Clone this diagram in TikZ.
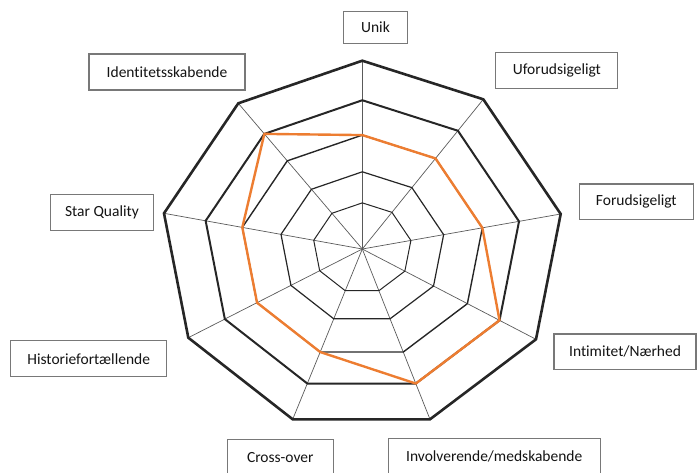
\documentclass[tikz,border=0pt]{standalone}
\usepackage{fontspec}
\setmainfont{Carlito}[Ligatures=NoCommon]
\usetikzlibrary{calc}
\definecolor{chartorange}{RGB}{237,125,49}
\definecolor{boxgray}{RGB}{120,120,120}
\definecolor{spokegray}{RGB}{90,90,90}
\definecolor{textdark}{RGB}{20,20,20}
\tikzset{
  labelbox/.style={draw=boxgray, line width=1.1pt, fill=white, inner sep=0pt,
    font=\fontsize{15.5}{17}\selectfont, text=textdark},
  spoke/.style={draw=spokegray, line width=0.7pt},
  ringline/.style={draw=black!85, line join=miter},
  dataline/.style={draw=chartorange, line width=2.4pt, line join=round}
}
\begin{document}
\begin{tikzpicture}[x=1pt,y=-1pt]
\useasboundingbox (0,0) rectangle (697,472);
\clip (0,0) rectangle (697,472);
% centre and outer vertices
\coordinate (c) at (362.3,249);
\coordinate (v0) at (362.3,60.7);
\coordinate (v1) at (483.3,99.3);
\coordinate (v2) at (560.7,214);
\coordinate (v3) at (536,339.3);
\coordinate (v4) at (430,419.3);
\coordinate (v5) at (292.7,419.3);
\coordinate (v6) at (188.3,337.7);
\coordinate (v7) at (164,213.3);
\coordinate (v8) at (238.3,103.3);
% spokes
\foreach \i in {0,...,8} \draw[spoke] (c) -- (v\i);
% rings
\foreach \f/\w in {0.245/1.0,0.41/1.2,0.605/1.4,0.79/2.0,1/2.6}
  \draw[ringline, line width=\w pt]
    ($(c)!\f!(v0)$) -- ($(c)!\f!(v1)$) -- ($(c)!\f!(v2)$) -- ($(c)!\f!(v3)$) --
    ($(c)!\f!(v4)$) -- ($(c)!\f!(v5)$) -- ($(c)!\f!(v6)$) -- ($(c)!\f!(v7)$) --
    ($(c)!\f!(v8)$) -- cycle;
% data polygon
\draw[dataline]
  ($(c)!0.605!(v0)$) -- ($(c)!0.605!(v1)$) -- ($(c)!0.605!(v2)$) -- ($(c)!0.79!(v3)$) --
  ($(c)!0.79!(v4)$) -- ($(c)!0.605!(v5)$) -- ($(c)!0.605!(v6)$) -- ($(c)!0.605!(v7)$) --
  ($(c)!0.79!(v8)$) -- cycle;
% labels
\node[labelbox, minimum width=64pt, minimum height=32pt] (unik) at (375.5,27.2) {Unik};
\node[labelbox, minimum width=122pt, minimum height=36pt] (ufor) at (556.9,70.9) {Uforudsigeligt};
\node[labelbox, minimum width=156pt, minimum height=36pt] (ident) at (167,72) {Identitetsskabende};
\node[labelbox, minimum width=103pt, minimum height=36.5pt] (star) at (102,212.4) {Star Quality};
\node[labelbox, minimum width=114pt, minimum height=35.5pt] (forud) at (636.3,201.7) {Forudsigeligt};
\node[labelbox, minimum width=156pt, minimum height=36pt] (hist) at (88.7,358.7) {Historiefortællende};
\node[labelbox, minimum width=142pt, minimum height=35.5pt] (intim) at (625,351.7) {Intimitet/Nærhed};
\node[labelbox, minimum width=106pt, minimum height=36pt] (cross) at (280.3,457.3) {Cross-over};
\node[labelbox, minimum width=212pt, minimum height=36pt] (invol) at (494.2,456.3) {Involverende/medskabende};
\end{tikzpicture}
\end{document}
